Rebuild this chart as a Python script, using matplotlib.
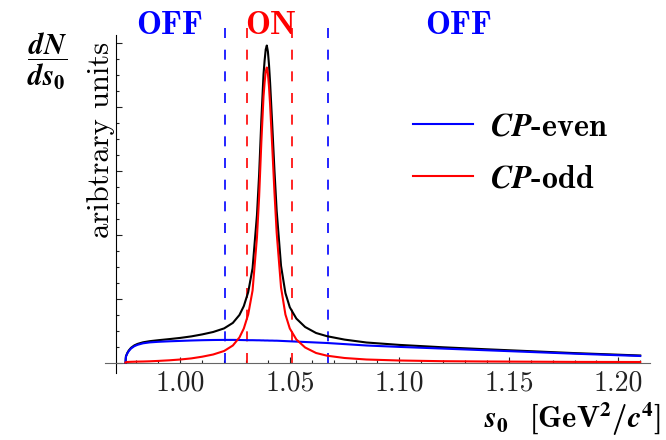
import numpy as np
import matplotlib.pyplot as plt
from matplotlib.font_manager import FontProperties
from matplotlib.ticker import FixedLocator, FormatStrFormatter, NullFormatter

# s0 in GeV^2/c^4, heights in arbitrary units
s0 = [0.975, 0.9751, 0.9752, 0.9758, 0.9765, 0.9775, 0.979, 0.9805, 0.983, 0.986,
      0.990, 0.995, 1.000, 1.005, 1.010, 1.015, 1.020, 1.024, 1.027, 1.029,
      1.031, 1.033, 1.035, 1.036, 1.037, 1.038, 1.0385, 1.039, 1.0395, 1.040,
      1.0405, 1.041, 1.042, 1.043, 1.044, 1.046, 1.048, 1.050, 1.053, 1.057,
      1.062, 1.067, 1.075, 1.085, 1.100, 1.120, 1.140, 1.160, 1.180, 1.210]
cp_even = [0, 4.0, 6.0, 9.0, 11.5, 14.0, 16.3, 17.7, 19.2, 20.1,
           20.7, 21.2, 21.6, 22.0, 22.3, 22.5, 22.6, 22.6, 22.5, 22.4,
           22.3, 22.3, 22.2, 22.2, 22.1, 22.1, 22.0, 22.0, 22.0, 22.0,
           21.9, 21.9, 21.9, 21.8, 21.8, 21.6, 21.4, 21.2, 20.9, 20.5,
           20.0, 19.5, 18.4, 17.0, 15.6, 13.9, 12.2, 10.5, 8.8, 6.5]
cp_odd = [0, 0.2, 0.3, 0.5, 0.6, 0.7, 0.8, 0.9, 1.0, 1.2,
          1.6, 2.2, 3.0, 4.1, 5.8, 8.0, 11.5, 17, 25, 34,
          48, 72, 125, 166, 220, 266, 280, 291, 295, 289,
          276, 258, 215, 170, 130, 75, 48, 34, 23, 15,
          9.5, 6.8, 4.5, 3.0, 2.0, 1.3, 1.0, 0.8, 0.6, 0.5]
total = [0, 4.2, 6.3, 9.5, 12.1, 14.7, 17.1, 18.6, 20.2, 21.3,
         22.3, 23.4, 24.6, 26.1, 28.1, 30.5, 34.1, 39.6, 47.5, 56.4,
         70.3, 94.3, 147.2, 188.2, 242.1, 288.1, 302, 313, 317, 311,
         297.9, 279.9, 236.9, 191.8, 151.8, 96.6, 69.4, 55.2, 43.9, 35.5,
         29.5, 26.3, 22.9, 20.0, 17.6, 15.2, 13.2, 11.3, 9.4, 7.0]

off_cuts = [1.0205, 1.0674]
on_cuts = [1.0306, 1.0510]

x_major = [1.00, 1.05, 1.10, 1.15, 1.20]
x_minor = np.round(np.arange(0.98, 1.215, 0.01), 2)
y_major = [0, 64, 128, 192, 256, 320]
y_minor = np.arange(0, 321, 16)

fig = plt.figure(figsize=(6.66, 4.4), dpi=100)
ax = fig.add_axes([105 / 666, 1 - 373 / 440, 545 / 666, 347 / 440])

ax.plot(s0, total, color='black', lw=1.5, zorder=3)
even, = ax.plot(s0, cp_even, color='blue', lw=1.5, zorder=4)
odd, = ax.plot(s0, cp_odd, color='red', lw=1.5, zorder=5)

dash = (0, (6, 7))
ax.vlines(off_cuts, 0, 334.5, colors='blue', lw=1.2, linestyles=[dash], zorder=2)
ax.vlines(on_cuts, 0, 334.5, colors='red', lw=1.2, linestyles=[dash], zorder=2)

ax.set_xlim(0.96562, 1.21447)
ax.set_ylim(-10.5, 336.5)
ax.spines['top'].set_visible(False)
ax.spines['right'].set_visible(False)
ax.spines['bottom'].set_position(('data', 0))
ax.spines['bottom'].set_color('#666666')
ax.spines['left'].set_position(('data', 0.9705))
ax.spines['left'].set_bounds(-10.5, 327.5)
for sp in ax.spines.values():
    sp.set_linewidth(0.8)

ax.xaxis.set_major_locator(FixedLocator(x_major))
ax.xaxis.set_minor_locator(FixedLocator(x_minor))
ax.xaxis.set_major_formatter(FormatStrFormatter('%.2f'))
ax.yaxis.set_major_locator(FixedLocator(y_major))
ax.yaxis.set_minor_locator(FixedLocator(y_minor))
ax.yaxis.set_major_formatter(NullFormatter())
ax.tick_params(which='both', direction='in', width=0.8, colors='#222222')
ax.tick_params(which='major', length=4.5)
ax.tick_params(which='minor', length=2.5)
ax.tick_params(axis='x', labelsize=20, pad=5.5)
for lab in ax.get_xticklabels():
    lab.set_family('cmr10')

# region labels
fig.text(169 / 666, 1 - 34 / 440, 'OFF', color='blue', family='cmb10', size=24,
         ha='center', va='baseline')
fig.text(271 / 666, 1 - 34 / 440, 'ON', color='red', family='cmb10', size=24,
         ha='center', va='baseline')
fig.text(458 / 666, 1 - 34 / 440, 'OFF', color='blue', family='cmb10', size=24,
         ha='center', va='baseline')

fig.text(47 / 666, 1 - 61 / 440, r'$\dfrac{\mathbfit{dN}}{\mathbfit{ds}_{\mathbf{0}}}$',
         size=21, math_fontfamily='stix', ha='center', va='center')
fig.text(101 / 666, 1 - 139.5 / 440, 'aribtrary units', family='cmr10', size=22,
         rotation=90, ha='center', va='center')
fig.text(660 / 666, 12 / 440,
         r'$\mathbfit{s}_{\mathbf{0}}$  [GeV$^{\mathbf{2}}$/$\mathbfit{c}^{\mathbf{4}}$]',
         family='cmb10', size=22, math_fontfamily='stix', ha='right', va='baseline')

ax.legend([even, odd], [r'$\mathbfit{CP}$-even', r'$\mathbfit{CP}$-odd'],
          prop=FontProperties(family='cmb10', size=23, math_fontfamily='stix'),
          loc='center left', bbox_to_anchor=(413 / 666, 1 - 152.8 / 440),
          bbox_transform=fig.transFigure, frameon=False, borderpad=0,
          borderaxespad=0, handlelength=1.88, handletextpad=0.53, labelspacing=0.73)

fig.savefig('out.png', dpi=100)
